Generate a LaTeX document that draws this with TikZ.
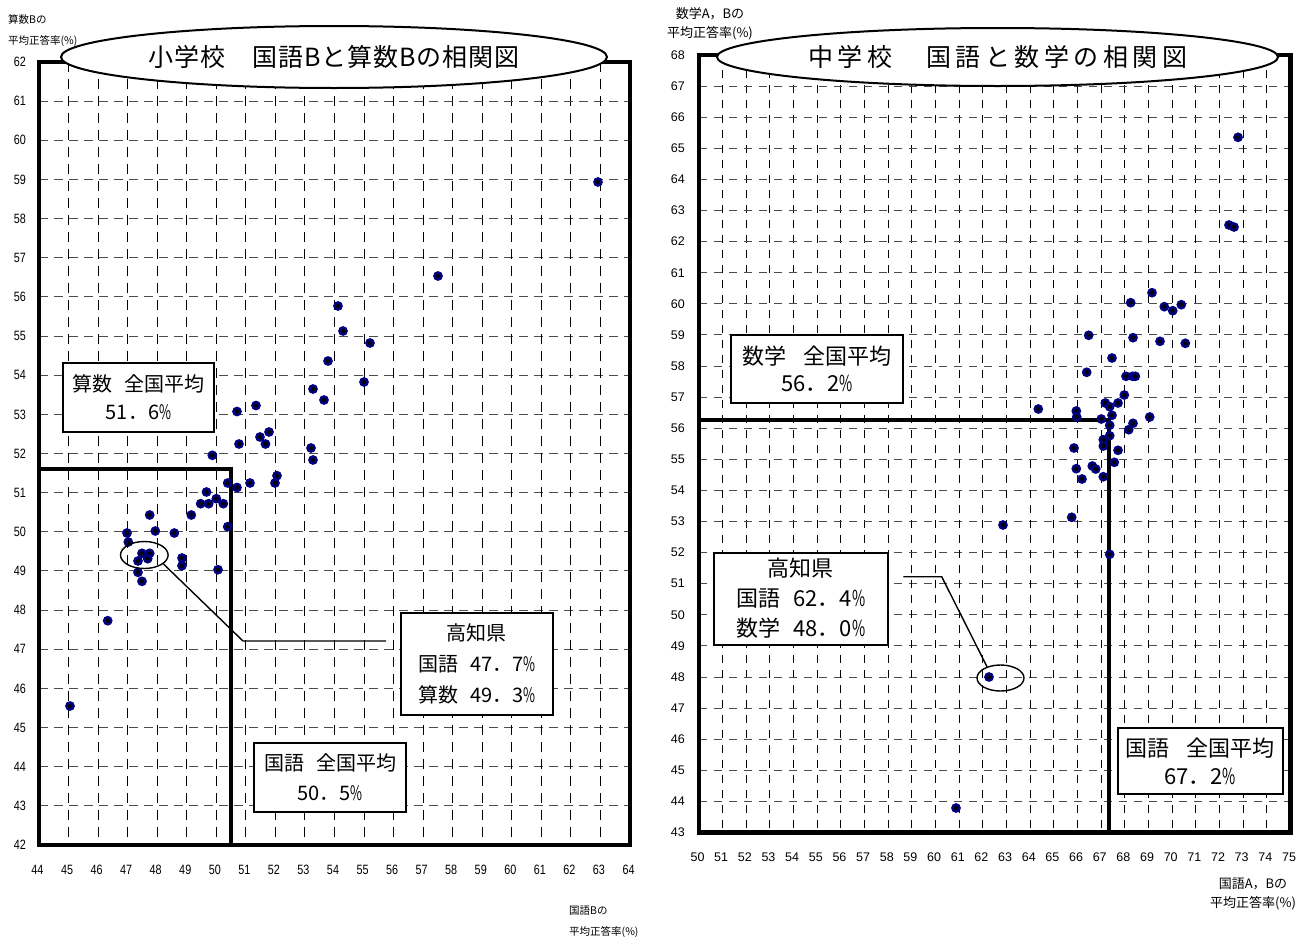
\documentclass[tikz,border=0pt]{standalone}
\usepackage{fontspec}
\usetikzlibrary{shapes.geometric}
\newfontfamily\jpf{Noto Sans CJK JP}
\newfontfamily\jplsA[LetterSpace=4]{Noto Sans CJK JP}
\newfontfamily\jplsB[LetterSpace=18]{Noto Sans CJK JP}
\newfontfamily\tkL[FakeStretch=0.8]{Liberation Sans}
\newfontfamily\tkR{Liberation Sans}
\definecolor{ptnavy}{RGB}{0,0,128}
\newcommand{\pc}{\scalebox{0.65}[1]{\%}}
\begin{document}
\begin{tikzpicture}[x=1pt,y=-1pt,
  frame/.style={line width=4.8pt},
  avgln/.style={line width=4pt},
  vgl/.style={line width=1pt, dash pattern=on 10pt off 7pt},
  hgl/.style={line width=1pt, black!70, dash pattern=on 9pt off 6pt},
  vgr/.style={line width=1pt, dash pattern=on 8pt off 7pt},
  hgr/.style={line width=1pt, black!70, dash pattern=on 8pt off 7pt},
  ptout/.style={fill=ptnavy},
  ptin/.style={fill=black},
  ttl/.style={ellipse, draw, line width=2pt, fill=white, inner sep=0pt},
  bx/.style={draw, line width=2pt, fill=white, inner sep=0pt, align=center},
  callell/.style={ellipse, draw, line width=1.4pt, inner sep=0pt},
  callln/.style={line width=1.4pt},
  tickl/.style={font=\tkL\fontsize{13.5}{15}\selectfont, inner sep=0pt},
  tickr/.style={font=\tkR\fontsize{12.5}{14}\selectfont, inner sep=0pt},
  axtl/.style={font=\jpf\fontsize{10.5}{21}\selectfont, inner sep=0pt, align=left},
  axtr/.style={font=\jpf\fontsize{13}{19}\selectfont, inner sep=0pt, align=center},
]
\useasboundingbox[fill=white] (0,0) rectangle (1309,937);

% ---------------- left chart grid ----------------
\foreach \i in {1,...,19}{
  \draw[vgl] ({39+\i*29.55},62) -- ({39+\i*29.55},845);
  \draw[hgl] (39,{845-\i*39.15}) -- (630,{845-\i*39.15});
}
% ---------------- right chart grid ----------------
\foreach \i in {1,...,24}{
  \draw[vgr] ({699+\i*23.66},55) -- ({699+\i*23.66},832.5);
  \draw[hgr] (699,{832.5-\i*31.1}) -- (1290.5,{832.5-\i*31.1});
}

% average lines
\draw[avgln] (39,469) -- (231,469) -- (231,845);
\draw[avgln] (699,419.5) -- (1109,419.5) -- (1109,832.5);

% data points left
\foreach \px/\py in {598/182, 438/276, 338/306, 343/331, 370/343, 328/361, 364/382, 313/389, 324/400,
  256/405.5, 237/411.5, 269/432, 260/437, 239/444, 265.5/444, 311/448, 313/460, 212.3/455.3,
  277/475.7, 275/483, 250/483, 237/487.5, 227.7/483, 206.5/492, 200.7/503.7, 208.7/503.7,
  216.3/498.7, 223.3/503.7, 191.3/515, 227.7/526.7, 149.7/515, 127/533, 155.3/531, 174.3/533,
  128.3/542, 142/553.3, 149.7/553.3, 138/561, 147.7/558.7, 182/558, 182/565.7, 138/572.3,
  218/569.7, 142/581.3, 107.7/620.7, 70/706}{
  \fill[ptout] (\px,\py) circle (4.9);
  \fill[ptin] (\px,\py) circle (2.2);
}
% data points right
\foreach \px/\py in {1238/137.3, 1229/225, 1234/227, 1152/292.7, 1130.7/302.7, 1164.3/306.7,
  1172.7/310.7, 1181.3/304.7, 1088.7/335.3, 1133/337.7, 1160/341.3, 1185.3/343.3, 1112/358,
  1086.7/372.3, 1126/376.3, 1132.7/376.3, 1135.3/376.3, 1124.3/395, 1105.3/403, 1118/403,
  1109.7/406.7, 1038.3/409, 1076.3/411, 1112/415.3, 1076.7/417, 1149.7/417, 1101.3/419,
  1109.7/425.3, 1133/423.3, 1128.7/429.7, 1109.7/435.7, 1103.3/439.7, 1103.3/446, 1074/448,
  1118/450.3, 1114.3/462.3, 1092.3/466, 1095.7/469, 1076.3/468.7, 1082/479, 1103.3/476.7,
  1071.7/517.3, 1109.7/554.3, 1003/525, 989/677, 956/808}{
  \fill[ptout] (\px,\py) circle (4.9);
  \fill[ptin] (\px,\py) circle (2.2);
}

% frames
\draw[frame] (39,62) rectangle (630,845);
\draw[frame] (699,55) rectangle (1290.5,832.5);

% titles
\node[ttl, minimum width=546pt, minimum height=62pt, font=\jplsA\fontsize{25}{30}\selectfont] (titleL) at (334,57) {小学校　国語Bと算数Bの相関図};
\node[ttl, minimum width=561pt, minimum height=58pt, font=\jplsB\fontsize{25}{30}\selectfont] (titleR) at (997.5,57) {中学校　国語と数学の相関図};

% boxes left
\node[bx, minimum width=151pt, minimum height=69pt, font=\jpf\fontsize{20}{28}\selectfont] (avgS) at (138.5,397.5) {算数\hspace{.6em}全国平均\\51．6\pc};
\node[bx, minimum width=152pt, minimum height=102pt, font=\jpf\fontsize{20}{31}\selectfont] (kochiL) at (476.7,664.2) {高知県\\国語\hspace{.6em}47．7\pc\\算数\hspace{.6em}49．3\pc};
\node[bx, minimum width=152pt, minimum height=69pt, font=\jpf\fontsize{20}{30}\selectfont] (avgK) at (330,777) {国語\hspace{.6em}全国平均\\50．5\pc};

% boxes right
\node[bx, minimum width=172pt, minimum height=68pt, font=\jpf\fontsize{22}{27}\selectfont] (avgM) at (817,369) {数学\hspace{.75em}全国平均\\56．2\pc};
\node[bx, minimum width=174pt, minimum height=92pt, font=\jpf\fontsize{22}{30}\selectfont] (kochiR) at (800.8,598.5) {高知県\\国語\hspace{.6em}62．4\pc\\数学\hspace{.6em}48．0\pc};
\node[bx, minimum width=165pt, minimum height=66pt, font=\jpf\fontsize{22}{28}\selectfont] (avgKR) at (1200,761) {国語\hspace{.75em}全国平均\\67．2\pc};

% callouts
\node[callell, minimum width=47.6pt, minimum height=27pt] (ellL) at (144.3,555) {};
\coordinate (bendL) at (243,641);
\coordinate (endL) at (386,641);
\draw[callln] (ellL.-25) -- (bendL) -- (endL);
\node[callell, minimum width=47pt, minimum height=26pt] (ellR) at (1000.5,678) {};
\coordinate (bendR) at (941.7,576.7);
\coordinate (endR) at (903.3,576.7);
\draw[callln] (ellR.140) -- (bendR) -- (endR);

% tick labels
\foreach \i in {0,...,20}{
  \pgfmathtruncatemacro\v{44+\i}
  \node[tickl] (lx\v) at ({37.5+\i*29.55},870) {\v};
  \pgfmathtruncatemacro\w{42+\i}
  \node[tickl, anchor=east] (ly\w) at (26,{845-\i*39.15}) {\w};
}
\foreach \i in {0,...,25}{
  \pgfmathtruncatemacro\v{50+\i}
  \node[tickr] (rx\v) at ({697.5+\i*23.66},857) {\v};
  \pgfmathtruncatemacro\w{43+\i}
  \node[tickr, anchor=east] (ry\w) at (685,{832.5-\i*31.1}) {\w};
}

% axis titles
\node[axtl, anchor=west] (ytL) at (8,30.5) {算数Bの\\平均正答率(\%)};
\node[axtl, anchor=west] (xtL) at (569,922) {国語Bの\\平均正答率(\%)};
\node[axtr] (ytR) at (710,24) {数学A，Bの\\平均正答率(\%)};
\node[axtr] (xtR) at (1253,894) {国語A，Bの\\平均正答率(\%)};
\end{tikzpicture}
\end{document}
